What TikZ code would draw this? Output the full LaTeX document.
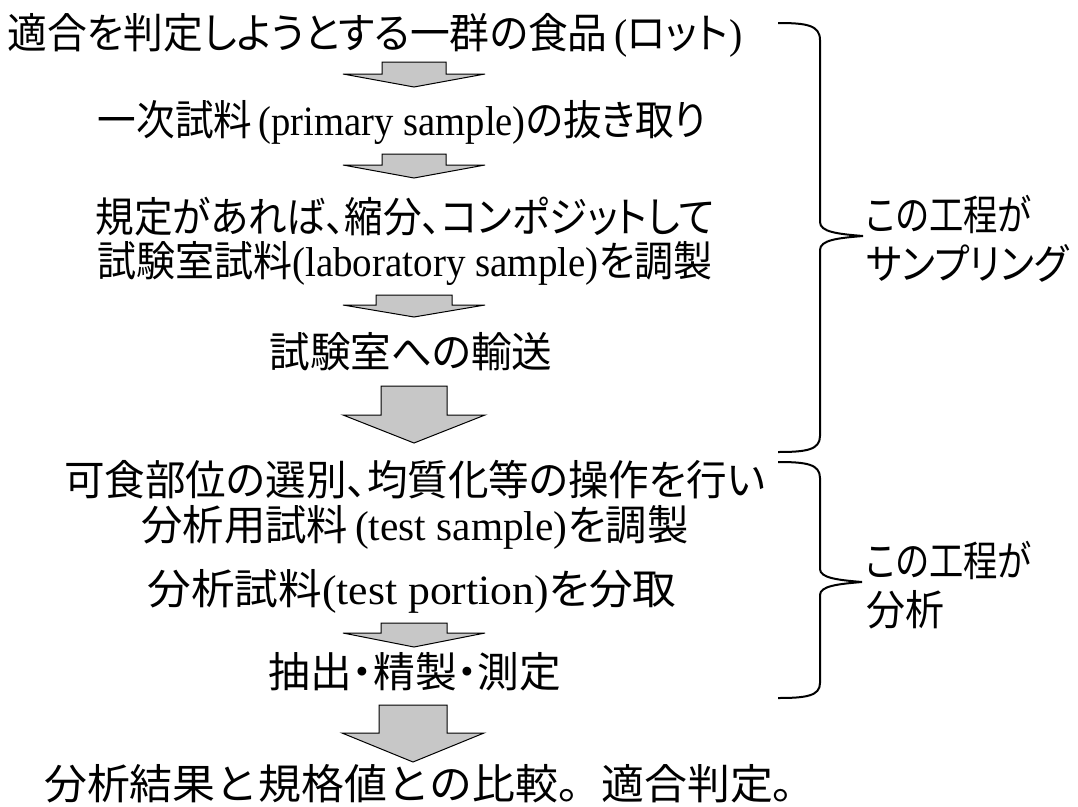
\documentclass[tikz,border=0pt]{standalone}
\usepackage{fontspec}
\usepackage{graphicx}
\setmainfont{Liberation Serif}
\newfontfamily\jp[RawFeature=+palt]{Noto Sans CJK JP}
\newfontfamily\jpf{Noto Sans CJK JP}
\newcommand\tline[2]{\scalebox{#1}[1.07]{#2}}
\begin{document}
\begin{tikzpicture}[x=1pt,y=-1pt,
  txt/.style={inner sep=0pt,font=\fontsize{39}{44}\selectfont},
  lbl/.style={txt,anchor=west},
  blockarrow/.style={draw=black,line width=1pt,fill=black!22},
  bracepath/.style={draw=black,line width=2pt}]
\useasboundingbox (0,0) rectangle (1078,806);
\newcommand\blockdown[5]{% cx, top, headbase, tip, half shaft
  \path[blockarrow] (#1-#5,#2) -- (#1+#5,#2) -- (#1+#5,#3) -- (#1+71,#3) -- (#1,#4) -- (#1-71,#3) -- (#1-#5,#3) -- cycle;}
% texts
\node[txt] (t1) at (375,35) {\tline{1.02}{{\jp 適合を判定しようとする一群の食品}\,({\jp ロット}\kern1pt)}};
\node[txt] (t2) at (402,122) {\tline{0.99}{{\jp 一次試料}\,(primary sample){\jp の抜き取り}}};
\node[txt] (t3a) at (405,217) {\tline{0.99}{{\jp 規定があれば、縮分、コンポジットして}}};
\node[txt] (t3b) at (405,263) {\tline{1.0}{{\jp 試験室試料}(laboratory sample){\jp を調製}}};
\node[txt] (t4) at (411,352) {\tline{1.04}{{\jp 試験室への輸送}}};
\node[txt] (t5a) at (415,480) {\tline{1.04}{{\jp 可食部位の選別、均質化等の操作を行い}}};
\node[txt] (t5b) at (415,527) {\tline{1.06}{{\jp 分析用試料}\,(test sample){\jp を調製}}};
\node[txt] (t6) at (412,591) {\tline{1.12}{{\jp 分析試料}(test portion){\jp を分取}}};
\node[txt] (t7) at (415,672) {\tline{1.07}{{\jp 抽出・精製・測定}}};
\node[txt] (t8) at (430,784) {\tline{1.10}{{\jpf 分析結果と規格値との比較。適合判定。}}};
% arrows
\blockdown{414}{62}{74}{87}{32}
\blockdown{414}{154}{165}{178}{32}
\blockdown{414}{295}{305}{317}{38}
\blockdown{414}{386}{415}{443}{33}
\blockdown{414}{623}{633}{647}{33}
\blockdown{413}{705}{733}{762}{34}
% braces
\path[bracepath] (778,23) .. controls (806,23) and (820,25) .. (820,40) -- (820,222)
  .. controls (820,232) and (838,234) .. (863,236)
  .. controls (838,238) and (820,240) .. (820,250) -- (820,436)
  .. controls (820,450) and (806,452) .. (778,452);
\path[bracepath] (778,462) .. controls (806,462) and (820,464) .. (820,478) -- (820,569)
  .. controls (820,578) and (838,580) .. (862,582)
  .. controls (838,584) and (820,586) .. (820,595) -- (820,683)
  .. controls (820,696) and (806,698) .. (778,698);
\node[lbl] (b1a) at (866,214) {\tline{0.88}{{\jp この工程が}}};
\node[lbl] (b1b) at (866,263) {\tline{0.97}{{\jp サンプリング}}};
\node[lbl] (b2a) at (866,560) {\tline{0.88}{{\jp この工程が}}};
\node[lbl] (b2b) at (866,610) {\tline{1.0}{{\jp 分析}}};
\end{tikzpicture}
\end{document}
